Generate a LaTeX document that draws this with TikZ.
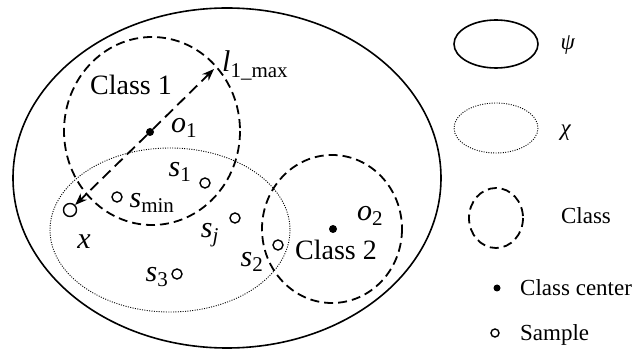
\documentclass[tikz,border=0pt]{standalone}
\usepackage{amsmath}
\usepackage{fontspec}
\setmainfont{Liberation Serif}
\usetikzlibrary{arrows.meta}
\newcommand{\mlab}[2]{$\textit{#1}_{\text{#2}}$}
\tikzset{
  psiline/.style   = {line width=1.6pt},
  chiline/.style   = {line width=0.9pt,dash pattern=on 1pt off 1.4pt},
  classline/.style = {line width=1.8pt,dash pattern=on 9pt off 5pt},
  radarr/.style    = {-{Stealth[length=12pt,width=9pt]},line width=1.8pt,dash pattern=on 11pt off 6pt},
  centerpt/.style  = {circle,fill,inner sep=0pt,minimum size=8pt},
  samplept/.style  = {circle,draw,line width=1.4pt,inner sep=0pt,minimum size=10pt},
  lbl/.style       = {font=\fontsize{30}{32}\selectfont,inner sep=0pt},
  txt/.style       = {font=\fontsize{28}{30}\selectfont,inner sep=0pt},
  keytxt/.style    = {font=\fontsize{23}{25}\selectfont,inner sep=0pt}
}

\begin{document}
\begin{tikzpicture}[x=1pt,y=-1pt]
  \useasboundingbox (0,0) rectangle (640,355);
  % regions psi, chi and the two classes
  \draw[psiline]   (227,178) ellipse [x radius=214, y radius=170];
  \draw[chiline]   (170,230) ellipse [x radius=120, y radius=82];
  \draw[classline] (152,131) ellipse [x radius=88, y radius=94];
  \draw[classline] (332,229) ellipse [x radius=70, y radius=74];
  % centers and samples
  \node[centerpt] (o1) at (150,132) {};
  \node[centerpt] (o2) at (333,229) {};
  \node[samplept,minimum size=13pt] (x) at (70,210) {};
  \node[samplept] (s1)   at (205,183) {};
  \node[samplept] (smin) at (117,197) {};
  \node[samplept] (sj)   at (235,218) {};
  \node[samplept] (s2)   at (278,245) {};
  \node[samplept] (s3)   at (177,274) {};
  \coordinate (lmax) at (214,69);
  % radius of class 1
  \draw[radarr] (o1) -- (lmax);
  \draw[radarr] (o1) -- (x);
  \node[txt] (cls1) at (131,85)  {Class 1};
  \node[txt] (cls2) at (336,250) {Class 2};
  \node[lbl,anchor=base west] (lmaxlbl) at (222,72) {\mlab{l}{1\_max}};
  \node[lbl] (o1lbl)   at (184,128) {\mlab{o}{1}};
  \node[lbl] (o2lbl)   at (370,216) {\mlab{o}{2}};
  \node[lbl] (s1lbl)   at (180,172) {\mlab{s}{1}};
  \node[lbl] (sminlbl) at (152,203) {\mlab{s}{min}};
  \node[lbl] (xlbl)    at (84,242)  {\textit{x}};
  \node[lbl] (sjlbl)   at (210,235) {\mlab{s}{\textit{j}}};
  \node[lbl] (s2lbl)   at (252,262) {\mlab{s}{2}};
  \node[lbl] (s3lbl)   at (157,277) {\mlab{s}{3}};
  % legend
  \draw[psiline]   (496,44)  ellipse [x radius=42, y radius=24];
  \draw[chiline]   (496,128) ellipse [x radius=42, y radius=25];
  \draw[classline] (496,218) ellipse [x radius=27, y radius=30];
  \node[centerpt,minimum size=7pt] (keyctr) at (497,288) {};
  \node[samplept,minimum size=8pt] (keysmp) at (495,333) {};
  \node[keytxt] (keypsi) at (568,45)  {\textit{ψ}};
  \node[keytxt] (keychi) at (566,133) {\textit{χ}};
  \node[keytxt] (keycls) at (586,216) {Class};
  \node[keytxt,anchor=west] (keyctrlbl) at (520,288) {Class center};
  \node[keytxt,anchor=west] (keysmplbl) at (520,335) {Sample};
\end{tikzpicture}
\end{document}
